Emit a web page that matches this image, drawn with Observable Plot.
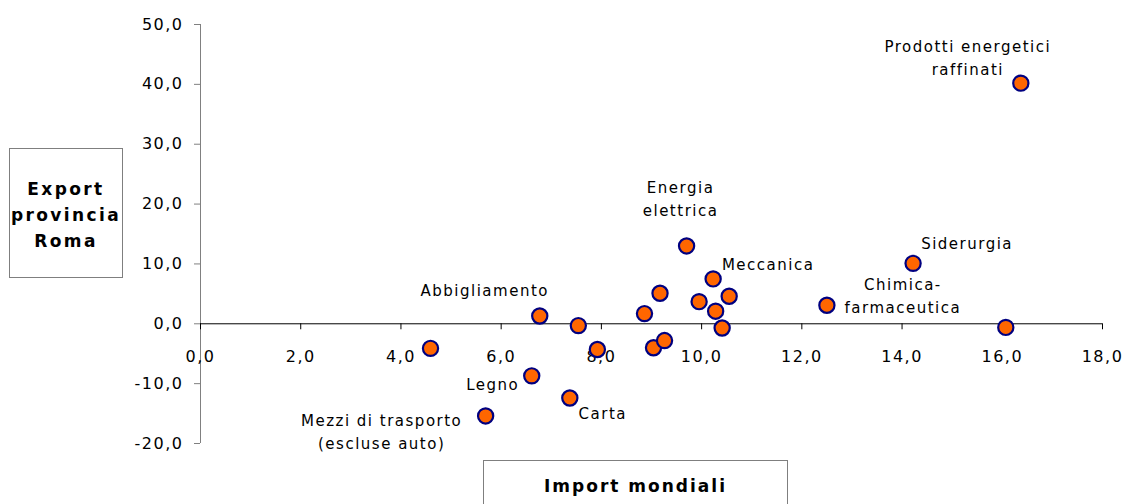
<!DOCTYPE html>
<html>
<head>
<meta charset="utf-8">
<script src="https://cdn.jsdelivr.net/npm/d3@7"></script>
<script src="https://cdn.jsdelivr.net/npm/@observablehq/plot@0.6"></script>
<style>
  html, body { margin: 0; padding: 0; background: #fff; }
  #wrap { position: relative; width: 1126px; height: 504px; overflow: hidden; font-family: "DejaVu Sans", Verdana, sans-serif; }
  #wrap svg { position: absolute; left: 0; top: 0; }
  .tick-text text { letter-spacing: 1.5px; }
  .lab-text text { letter-spacing: 1.5px; }
  .box { position: absolute; box-sizing: border-box; border: 1px solid #7f7f7f; background: #fff;
         font-weight: bold; color: #000; text-align: center; }
  #ybox { left: 9px; top: 148px; width: 114px; height: 130px; font-size: 17px; line-height: 26px; letter-spacing: 2.4px;
          display: flex; align-items: center; justify-content: center; padding-top: 3px; }
  #xbox { left: 483px; top: 460px; width: 305px; height: 70px; font-size: 17px; line-height: 20px; padding-top: 15px; letter-spacing: 2px; }
</style>
</head>
<body>
<div id="wrap"></div>
<script>
// ---- data ----
const sectors = [
  "Prodotti energetici\nraffinati", "Siderurgia", "Chimica-\nfarmaceutica", "",
  "Energia\nelettrica", "Meccanica", "", "", "", "", "", "",
  "", "Abbigliamento", "", "", "", "",
  "Legno", "Carta", "Mezzi di trasporto\n(escluse auto)"
];
const importMondiali = [
  16.37, 14.22, 12.50, 16.07,
  9.70, 10.23, 9.17, 10.55, 9.95, 10.28, 10.41, 8.86,
  7.54, 6.77, 4.59, 7.92, 9.04, 9.26,
  6.61, 7.37, 5.69
];
const exportRoma = [
  40.2, 10.1, 3.1, -0.6,
  13.0, 7.5, 5.1, 4.6, 3.7, 2.1, -0.7, 1.7,
  -0.3, 1.3, -4.1, -4.3, -4.0, -2.8,
  -8.7, -12.4, -15.4
];
const xTicks = [0, 2, 4, 6, 8, 10, 12, 14, 16, 18];
const yTicks = [-20, -10, 0, 10, 20, 30, 40, 50];

// ---- layout for the labels (offsets from the labelled dot, in pixels) ----
const labelOffsets = {
  "Prodotti energetici\nraffinati": [-53, -27],
  "Siderurgia": [54, -22],
  "Chimica-\nfarmaceutica": [76, -11],
  "Energia\nelettrica": [-6, -49],
  "Meccanica": [55, -16],
  "Abbigliamento": [-55, -27],
  "Legno": [-39, 7],
  "Carta": [33, 14],
  "Mezzi di trasporto\n(escluse auto)": [-104, 14]
};

const data = sectors.map((s, i) => ({sector: s, imp: importMondiali[i], exp: exportRoma[i]}));
const fmt = d => d3.format(".1f")(d).replace(".", ",").replace("−", "-");

const labelMarks = Object.entries(labelOffsets).map(([name, [dx, dy]]) =>
  Plot.text(data.filter(d => d.sector === name), {
    x: "imp", y: "exp", text: "sector", dx, dy,
    fontSize: 15, lineHeight: 1.53, fill: "#000", textAnchor: "middle",
    className: "lab-text"
  })
);

const chart = Plot.plot({
  width: 1126,
  height: 504,
  marginLeft: 200,
  marginRight: 24,
  marginTop: 24,
  marginBottom: 61,
  style: {fontFamily: "'DejaVu Sans', Verdana, sans-serif", background: "transparent", overflow: "visible"},
  x: {domain: [0, 18], axis: null},
  y: {domain: [-20, 50]},
  marks: [
    Plot.ruleX([0], {stroke: "#808080", strokeWidth: 1}),
    Plot.axisY({ticks: yTicks, tickFormat: fmt, tickSize: 6, tickPadding: 11,
                stroke: "#808080", fill: "#000", fontSize: 16, label: null, className: "tick-text"}),
    Plot.ruleY([0], {stroke: "#000", strokeWidth: 1}),
    Plot.ruleX(xTicks, {x: d => d, y1: 0, y2: 0, insetBottom: -6, stroke: "#000"}),
    Plot.text(xTicks, {x: d => d, y: 0, dy: 33, text: fmt, fontSize: 16, fill: "#000", className: "tick-text"}),
    Plot.dot(data, {x: "imp", y: "exp", r: 7.6, fill: "#FF6600", stroke: "#000080", strokeWidth: 2.2}),
    ...labelMarks
  ]
});

const wrap = document.getElementById("wrap");
wrap.appendChild(chart);
const ybox = document.createElement("div");
ybox.id = "ybox"; ybox.className = "box";
ybox.innerHTML = "<div>Export<br>provincia<br>Roma</div>";
wrap.appendChild(ybox);
const xbox = document.createElement("div");
xbox.id = "xbox"; xbox.className = "box";
xbox.textContent = "Import mondiali";
wrap.appendChild(xbox);
</script>
</body>
</html>
